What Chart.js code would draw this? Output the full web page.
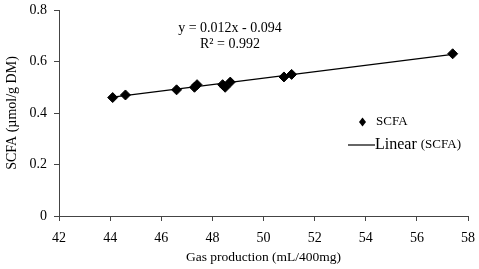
<!DOCTYPE html>
<html>
<head>
<meta charset="utf-8">
<script src="https://cdn.jsdelivr.net/npm/chart.js@4.4.0/dist/chart.umd.min.js"></script>
<style>
  html, body { margin: 0; padding: 0; background: #fff; }
  #wrap { width: 479px; height: 269px; }
</style>
</head>
<body>
<div id="wrap"><canvas id="chart"></canvas></div>
<script>
var gasProduction = [44.1, 44.6, 46.6, 47.3, 47.4, 48.4, 48.5, 48.7, 50.8, 51.1, 57.4];
var scfaValues = [0.46, 0.47, 0.49, 0.50, 0.51, 0.51, 0.50, 0.52, 0.54, 0.55, 0.63];
var trendX = [44.1, 57.4];
var trendY = [0.462, 0.628];
var xTicks = [42, 44, 46, 48, 50, 52, 54, 56, 58];
var yTicks = [0, 0.2, 0.4, 0.6, 0.8];
var equationText = ['y = 0.012x - 0.094', 'R\u00b2 = 0.992'];

var serif = '"Liberation Serif", "Times New Roman", serif';
var axisColor = '#444';

var points = gasProduction.map(function(x, i) { return { x: x, y: scfaValues[i] }; });
var trend = trendX.map(function(x, i) { return { x: x, y: trendY[i] }; });

// equation + legend drawn on the canvas like the excel chart
var annotations = {
  id: 'annotations',
  afterDraw: function(chart) {
    var c = chart.ctx;
    c.save();
    c.fillStyle = '#000';
    c.textBaseline = 'middle';
    c.textAlign = 'center';
    c.font = '14px ' + serif;
    c.fillText(equationText[0], 230, 28);
    c.fillText(equationText[1], 230, 44);

    // legend
    c.textAlign = 'left';
    c.beginPath();
    c.moveTo(362.5, 117.5); c.lineTo(366, 122); c.lineTo(362.5, 126.5); c.lineTo(359, 122);
    c.closePath();
    c.fill();
    c.font = '13px ' + serif;
    c.fillText('SCFA', 376, 122);

    c.strokeStyle = '#000';
    c.lineWidth = 1.2;
    c.beginPath();
    c.moveTo(348, 145); c.lineTo(375, 145);
    c.stroke();
    c.font = '16px ' + serif;
    c.fillText('Linear', 375, 145);
    var w = c.measureText('Linear ').width;
    c.font = '13px ' + serif;
    c.fillText('(SCFA)', 375 + w, 145);
    c.restore();
  }
};

new Chart(document.getElementById('chart').getContext('2d'), {
  type: 'scatter',
  data: {
    datasets: [
      {
        label: 'SCFA',
        data: points,
        pointStyle: 'rectRot',
        pointRadius: 5,
        pointBackgroundColor: '#000',
        pointBorderColor: '#000',
        showLine: false,
        order: 1
      },
      {
        label: 'Linear (SCFA)',
        data: trend,
        showLine: true,
        borderColor: '#000',
        borderWidth: 1.3,
        pointRadius: 0,
        fill: false,
        order: 2
      }
    ]
  },
  options: {
    responsive: true,
    maintainAspectRatio: false,
    animation: false,
    layout: { padding: { left: 0, top: 10, right: 11, bottom: 0 } },
    plugins: {
      legend: { display: false },
      tooltip: { enabled: false }
    },
    scales: {
      x: {
        type: 'linear',
        min: 42,
        max: 58,
        afterBuildTicks: function(scale) { scale.ticks = xTicks.map(function(v) { return { value: v }; }); },
        afterFit: function(scale) {
          scale.height = 53;
          scale.paddingLeft = 0;
          scale.paddingRight = 0;
        },
        grid: { display: true, drawOnChartArea: false, drawTicks: true, tickLength: 5, color: axisColor },
        border: { color: axisColor, width: 1 },
        ticks: { color: '#000', font: { family: serif, size: 14 }, padding: 9, maxRotation: 0 },
        title: { display: true, text: 'Gas production (mL/400mg)', color: '#000', font: { family: serif, size: 13.5 }, padding: { top: 0, bottom: 3 } }
      },
      y: {
        min: 0,
        max: 0.8,
        afterBuildTicks: function(scale) { scale.ticks = yTicks.map(function(v) { return { value: v }; }); },
        afterFit: function(scale) {
          scale.width = 59;
          scale.paddingTop = 0;
          scale.paddingBottom = 0;
        },
        grid: { display: true, drawOnChartArea: false, drawTicks: true, tickLength: 5, color: axisColor },
        border: { color: axisColor, width: 1 },
        ticks: {
          color: '#000',
          font: { family: serif, size: 14 },
          padding: 7,
          callback: function(v) { return v === 0 ? '0' : v.toFixed(1); }
        },
        title: { display: true, text: 'SCFA (\u00b5mol/g DM)', color: '#000', font: { family: serif, size: 14 }, padding: { top: 4, bottom: 0 } }
      }
    }
  },
  plugins: [annotations]
});
</script>
</body>
</html>
